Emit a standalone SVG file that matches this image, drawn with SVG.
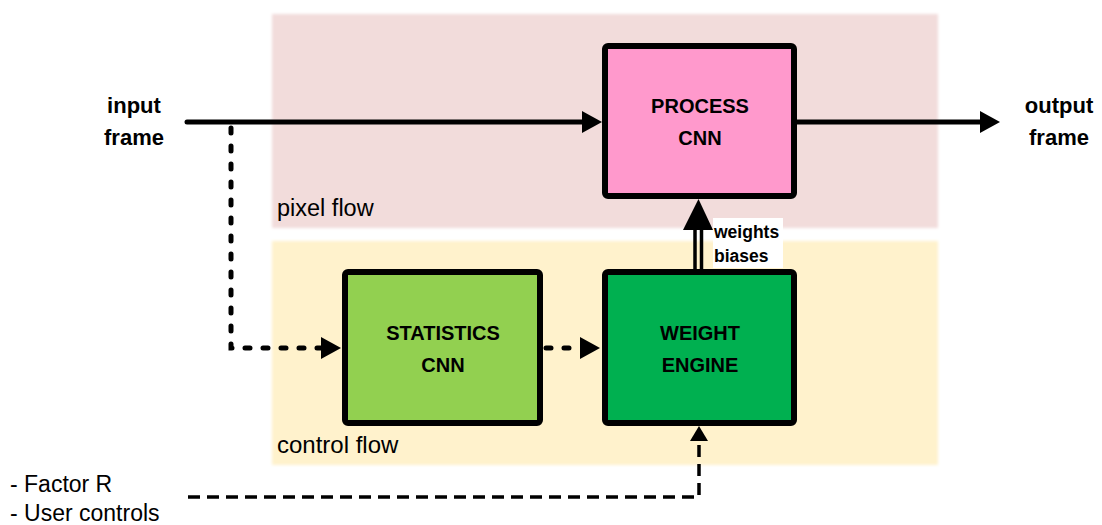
<svg xmlns="http://www.w3.org/2000/svg" width="1102" height="525" viewBox="0 0 1102 525">
  <style>
    .lbl { font-family: "Liberation Sans", Arial, sans-serif; fill: #000; }
    .bold { font-weight: bold; }
    .box { stroke: #000; stroke-width: 6; }
    .solid { fill: none; stroke: #000; stroke-width: 5; }
    .dot { fill: none; stroke: #000; stroke-width: 5; stroke-linecap: round; stroke-dasharray: 5 13; }
    .dash { fill: none; stroke: #000; stroke-width: 3.5; stroke-dasharray: 12 7; }
  </style>
  <defs>
    <filter id="soft" x="-5%" y="-5%" width="110%" height="110%">
      <feGaussianBlur stdDeviation="1.5"/>
    </filter>
    <marker id="ah" markerUnits="userSpaceOnUse" markerWidth="24" markerHeight="26" refX="0" refY="11" orient="auto" overflow="visible">
      <path d="M0,0 L20,11 L0,22 Z" fill="#000"/>
    </marker>
    <marker id="ahs" markerUnits="userSpaceOnUse" markerWidth="20" markerHeight="20" refX="0" refY="9" orient="auto" overflow="visible">
      <path d="M0,0 L15,9 L0,18 Z" fill="#000"/>
    </marker>
  </defs>
  <rect width="1102" height="525" fill="#fff"/>

  <g id="regions">
    <rect id="pixel-region" x="272" y="14" width="666" height="214" fill="#F2DCDB" filter="url(#soft)"/>
    <rect id="control-region" x="272" y="241" width="666" height="224" fill="#FFF2CC" filter="url(#soft)"/>
    <text class="lbl" x="277" y="216" font-size="23.5">pixel flow</text>
    <text class="lbl" x="277" y="453" font-size="24">control flow</text>
  </g>

  <g id="input-label">
    <text class="lbl bold" x="134" y="113" font-size="22" text-anchor="middle">input</text>
    <text class="lbl bold" x="134" y="145" font-size="22" text-anchor="middle">frame</text>
  </g>
  <g id="output-label">
    <text class="lbl bold" x="1059" y="113" font-size="22" text-anchor="middle">output</text>
    <text class="lbl bold" x="1059" y="145" font-size="22" text-anchor="middle">frame</text>
  </g>
  <g id="controls-label">
    <text class="lbl" x="10" y="492" font-size="23">- Factor R</text>
    <text class="lbl" x="10" y="521" font-size="23">- User controls</text>
  </g>

  <g id="process-cnn">
    <rect class="box" x="605" y="46" width="189" height="150" rx="3" fill="#FF99CC"/>
    <text class="lbl bold" x="700" y="113" font-size="20" text-anchor="middle">PROCESS</text>
    <text class="lbl bold" x="700" y="145" font-size="20" text-anchor="middle">CNN</text>
  </g>
  <g id="statistics-cnn">
    <rect class="box" x="345" y="272" width="195" height="151" rx="3" fill="#92D050"/>
    <text class="lbl bold" x="443" y="340" font-size="20" text-anchor="middle">STATISTICS</text>
    <text class="lbl bold" x="443" y="372" font-size="20" text-anchor="middle">CNN</text>
  </g>
  <g id="weight-engine">
    <rect class="box" x="605" y="272" width="189" height="151" rx="3" fill="#00B050"/>
    <text class="lbl bold" x="700" y="340" font-size="20" text-anchor="middle">WEIGHT</text>
    <text class="lbl bold" x="700" y="372" font-size="20" text-anchor="middle">ENGINE</text>
  </g>

  <g id="connectors">
    <line class="solid" x1="187" y1="122" x2="582" y2="122" stroke-linecap="round" marker-end="url(#ah)"/>
    <line class="solid" x1="797" y1="122" x2="980" y2="122" marker-end="url(#ah)"/>
    <path class="dot" d="M231,128 L231,348 L321,348" marker-end="url(#ah)"/>
    <line class="dot" x1="546" y1="348" x2="580" y2="348" marker-end="url(#ah)"/>
    <path class="dash" d="M188,497 L699,497 L699,441" marker-end="url(#ahs)"/>
    <g id="weights-arrow">
      <line x1="695" y1="269" x2="695" y2="229" stroke="#000" stroke-width="3.5"/>
      <line x1="701.5" y1="269" x2="701.5" y2="229" stroke="#000" stroke-width="3.5"/>
      <polygon points="683,230 713,230 698.5,199" fill="#000"/>
    </g>
  </g>

  <g id="weights-label">
    <rect x="713" y="218" width="70" height="50" fill="#fff"/>
    <text class="lbl bold" x="714" y="238" font-size="17.5">weights</text>
    <text class="lbl bold" x="714" y="262" font-size="17.5">biases</text>
  </g>
</svg>
